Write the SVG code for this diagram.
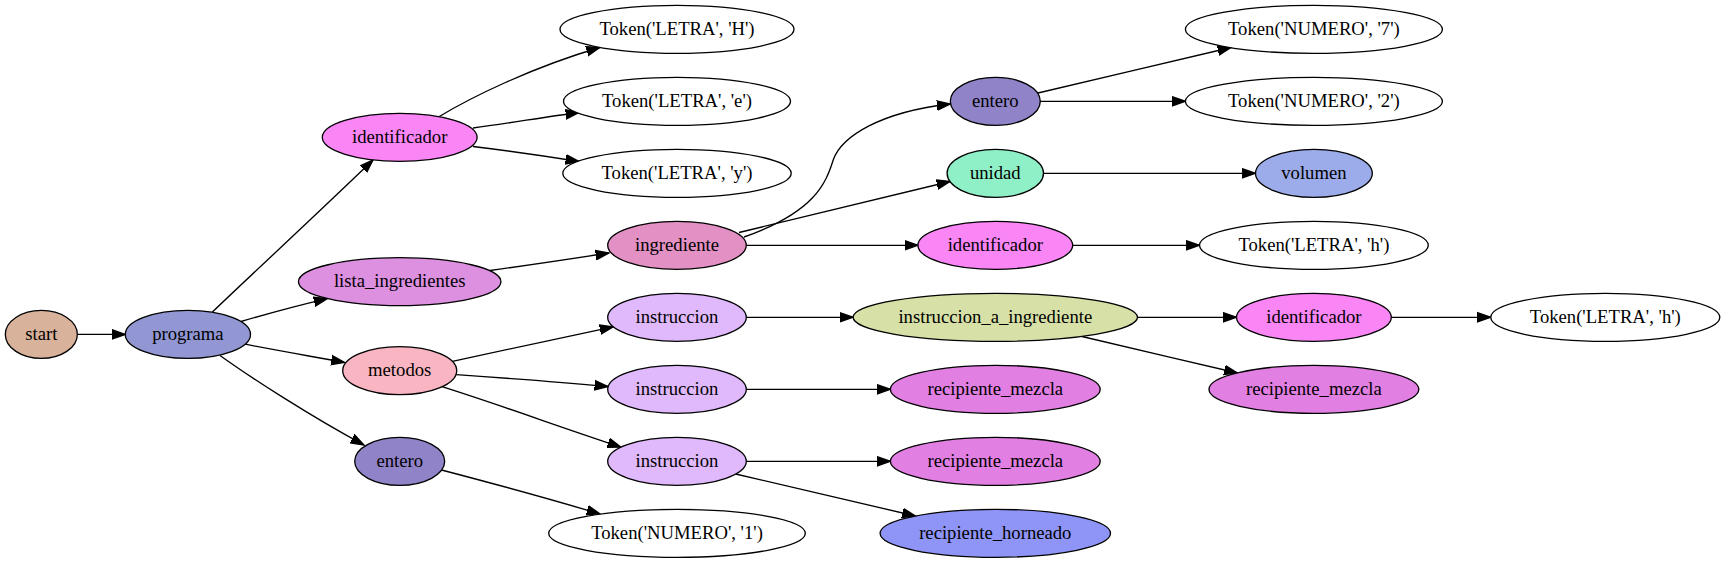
<svg xmlns="http://www.w3.org/2000/svg" width="1725" height="563" viewBox="0 0 1725 563">
<style>
.n ellipse{stroke:#000;stroke-width:1.33}
.n text{font-family:"Liberation Serif","DejaVu Serif","Times New Roman",serif;font-size:18.67px;text-anchor:middle;fill:#000}
#edges path{fill:none;stroke:#000;stroke-width:1.33;marker-end:url(#arr)}
</style>
<defs>
<marker id="arr" markerUnits="userSpaceOnUse" markerWidth="16" markerHeight="12" viewBox="0 -6 16 12" refX="13.33" refY="0" orient="auto">
<path d="M0,-4.67 L13.33,0 L0,4.67 Z" fill="#000" stroke="#000" stroke-width="1.33"/>
</marker>
</defs>
<rect width="1725" height="563" fill="#fff"/>
<g id="edges">
<path d="M77.33,334.4 L125.3,334.4"/>
<path d="M212.4,312 C265,262 320,211 373,160"/>
<path d="M241,321.5 C270,313 300,305 327.2,298.6"/>
<path d="M245,344.2 C280,351 315,357 344.5,362.5"/>
<path d="M220,355.5 C250,377 310,416 364,445"/>
<path d="M439.3,116.5 C470,98 530,68 599.7,47.5"/>
<path d="M473,128 C510,123 545,117 579,112.5"/>
<path d="M473,146.5 C510,151 545,156 579,161.5"/>
<path d="M489.9,270.5 C530,265 570,259 609,253"/>
<path d="M452.4,361.3 C510,349 565,337 613.1,326.8"/>
<path d="M456.2,374.7 C505,378 560,382 608,386.5"/>
<path d="M442,386.7 C500,405 560,427 620.8,447"/>
<path d="M441.5,470 C495,484 550,499 600,514"/>
<path d="M739,232.5 C810,215 880,198 950,181.5"/>
<path d="M744,237 C815,212 826,183 833.2,160 C841.5,136.5 880,112 950.3,104"/>
<path d="M746.3,245.33 L917.9,245.33"/>
<path d="M1038,93 C1100,78 1170,62 1231,47.5"/>
<path d="M1040.3,101.33 L1185.4,101.33"/>
<path d="M1043.5,173.33 L1255.5,173.33"/>
<path d="M1072.7,245.33 L1199.5,245.33"/>
<path d="M746.3,317.33 L853.1,317.33"/>
<path d="M1137.5,317.33 L1236.5,317.33"/>
<path d="M1082,336.5 C1135,349 1185,361 1237.5,373"/>
<path d="M1391.3,317.33 L1490.8,317.33"/>
<path d="M746.3,389.33 L890.4,389.33"/>
<path d="M746.3,461.33 L890.4,461.33"/>
<path d="M735.6,474 C795,488 855,502 915.5,516"/>
</g>
<g id="start" class="n"><ellipse cx="41.33" cy="334.4" rx="36" ry="24" fill="#d8b29b"/><text x="41.33" y="340">start</text></g>
<g id="programa" class="n"><ellipse cx="187.9" cy="334.4" rx="62.6" ry="24" fill="#9297d4"/><text x="187.9" y="340">programa</text></g>
<g id="identificador1" class="n"><ellipse cx="399.7" cy="137.3" rx="77.4" ry="24" fill="#fa86f6"/><text x="399.7" y="142.9">identificador</text></g>
<g id="lista_ingredientes" class="n"><ellipse cx="399.7" cy="281.7" rx="101.2" ry="24" fill="#dd8fe0"/><text x="399.7" y="287.3">lista_ingredientes</text></g>
<g id="metodos" class="n"><ellipse cx="399.7" cy="370.7" rx="57" ry="24" fill="#f9b5c1"/><text x="399.7" y="376.3">metodos</text></g>
<g id="entero1" class="n"><ellipse cx="399.7" cy="461.33" rx="45" ry="24" fill="#9183c8"/><text x="399.7" y="466.9">entero</text></g>
<g id="tokH" class="n"><ellipse cx="677" cy="29.33" rx="117" ry="24" fill="#fff"/><text x="677" y="34.9">Token('LETRA', 'H')</text></g>
<g id="toke" class="n"><ellipse cx="677" cy="101.33" rx="113.5" ry="24" fill="#fff"/><text x="677" y="106.9">Token('LETRA', 'e')</text></g>
<g id="toky" class="n"><ellipse cx="677" cy="173.33" rx="114.2" ry="24" fill="#fff"/><text x="677" y="178.9">Token('LETRA', 'y')</text></g>
<g id="ingrediente" class="n"><ellipse cx="677" cy="245.33" rx="69.3" ry="24" fill="#e391c4"/><text x="677" y="250.9">ingrediente</text></g>
<g id="instruccion1" class="n"><ellipse cx="677" cy="317.33" rx="69.3" ry="24" fill="#e0b9fc"/><text x="677" y="322.9">instruccion</text></g>
<g id="instruccion2" class="n"><ellipse cx="677" cy="389.33" rx="69.3" ry="24" fill="#e0b9fc"/><text x="677" y="394.9">instruccion</text></g>
<g id="instruccion3" class="n"><ellipse cx="677" cy="461.33" rx="69.3" ry="24" fill="#e0b9fc"/><text x="677" y="466.9">instruccion</text></g>
<g id="tokN1" class="n"><ellipse cx="677" cy="533.33" rx="128.3" ry="24" fill="#fff"/><text x="677" y="538.9">Token('NUMERO', '1')</text></g>
<g id="entero2" class="n"><ellipse cx="995.3" cy="101.33" rx="45" ry="24" fill="#9183c8"/><text x="995.3" y="106.9">entero</text></g>
<g id="unidad" class="n"><ellipse cx="995.3" cy="173.33" rx="48.2" ry="24" fill="#8ff0c8"/><text x="995.3" y="178.9">unidad</text></g>
<g id="identificador2" class="n"><ellipse cx="995.3" cy="245.33" rx="77.4" ry="24" fill="#fa86f6"/><text x="995.3" y="250.9">identificador</text></g>
<g id="instruccion_a_ingrediente" class="n"><ellipse cx="995.3" cy="317.33" rx="142.2" ry="24" fill="#d7e0a6"/><text x="995.3" y="322.9">instruccion_a_ingrediente</text></g>
<g id="recipiente_mezcla1" class="n"><ellipse cx="995.3" cy="389.33" rx="104.9" ry="24" fill="#e17fe2"/><text x="995.3" y="394.9">recipiente_mezcla</text></g>
<g id="recipiente_mezcla2" class="n"><ellipse cx="995.3" cy="461.33" rx="104.9" ry="24" fill="#e17fe2"/><text x="995.3" y="466.9">recipiente_mezcla</text></g>
<g id="recipiente_horneado" class="n"><ellipse cx="995.3" cy="533.33" rx="115.2" ry="24" fill="#8f95f7"/><text x="995.3" y="538.9">recipiente_horneado</text></g>
<g id="tokN7" class="n"><ellipse cx="1313.9" cy="29.33" rx="128.5" ry="24" fill="#fff"/><text x="1313.9" y="34.9">Token('NUMERO', '7')</text></g>
<g id="tokN2" class="n"><ellipse cx="1313.9" cy="101.33" rx="128.5" ry="24" fill="#fff"/><text x="1313.9" y="106.9">Token('NUMERO', '2')</text></g>
<g id="volumen" class="n"><ellipse cx="1313.9" cy="173.33" rx="58.4" ry="24" fill="#9cabe9"/><text x="1313.9" y="178.9">volumen</text></g>
<g id="tokh1" class="n"><ellipse cx="1313.9" cy="245.33" rx="114.4" ry="24" fill="#fff"/><text x="1313.9" y="250.9">Token('LETRA', 'h')</text></g>
<g id="identificador3" class="n"><ellipse cx="1313.9" cy="317.33" rx="77.4" ry="24" fill="#fa86f6"/><text x="1313.9" y="322.9">identificador</text></g>
<g id="recipiente_mezcla3" class="n"><ellipse cx="1313.9" cy="389.33" rx="104.9" ry="24" fill="#e17fe2"/><text x="1313.9" y="394.9">recipiente_mezcla</text></g>
<g id="tokh2" class="n"><ellipse cx="1605.3" cy="317.33" rx="114.5" ry="24" fill="#fff"/><text x="1605.3" y="322.9">Token('LETRA', 'h')</text></g>
</svg>
